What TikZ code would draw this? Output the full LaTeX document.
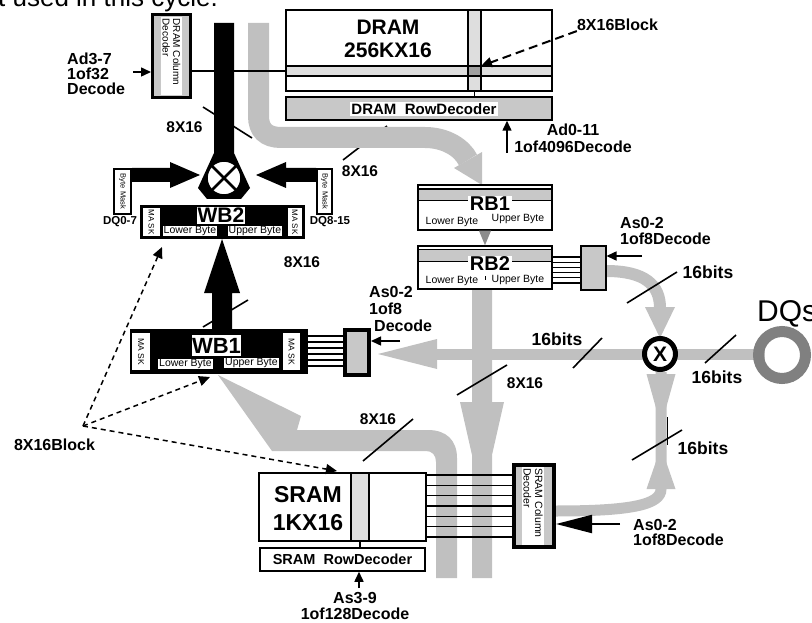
\documentclass[tikz,border=0pt]{standalone}
\usepackage{fontspec}
\setmainfont{Liberation Sans}
\usetikzlibrary{arrows.meta}
\definecolor{busgray}{RGB}{192,192,192}
\definecolor{boxgray}{RGB}{200,200,200}
\definecolor{stripgray}{RGB}{222,222,222}
\definecolor{sqgray}{RGB}{160,160,160}
\definecolor{ringgray}{RGB}{128,128,128}
\definecolor{tipgray}{RGB}{140,140,140}

\begin{document}
\begin{tikzpicture}[x=1pt, y=-1pt,
	box/.style = {draw, line width=1.5pt, inner sep=0pt},
	dec/.style = {draw, line width=4pt, fill=boxgray, inner sep=0pt},
	mask/.style = {fill=white, inner sep=0pt},
	bus/.style = {draw=busgray, line width=11pt},
	lbl/.style = {font=\bfseries\fontsize{16}{#1}\selectfont, inner sep=0pt, align=left},
	lbl/.default = 16,
	wlbl/.style = {font=\bfseries\fontsize{15.5}{15.5}\selectfont, inner sep=0pt},
	bits/.style = {font=\bfseries\fontsize{17.5}{17.5}\selectfont, inner sep=0pt},
	byte/.style = {font=\fontsize{10.5}{10.5}\selectfont, inner xsep=1pt, inner ysep=0.5pt},
	arr/.style = {line width=1.5pt, -{Triangle[width=9pt,length=10pt]}},
	tick/.style = {line width=1.6pt},
	blockptr/.style = {line width=1.5pt, dash pattern=on 5pt off 4pt, -{Triangle[width=10pt,length=11pt]}},
]
\useasboundingbox (0,0) rectangle (812,623);

\node[anchor=base west, inner sep=0pt, font=\fontsize{26}{26}\selectfont] (cycle) at (-2,7) {t used in this cycle.};

% gray buses
\draw[tick] (343,160) -- (387,126);
\draw[bus, line width=21pt] (258.5,23) -- (258.5,116) .. controls (258.5,130) and (266,137.5) .. (281,137.5) -- (425,137.5) .. controls (446,137.5) and (462,148) .. (468,160);
\fill[busgray] (454,168) -- (482,152) -- (482,185) -- cycle;
\draw[bus] (660,354) -- (437,354);
\fill[busgray] (437,339) -- (437,369) -- (378,354) -- cycle;
\draw[bus] (660,354) -- (765,354);
\draw[bus, line width=12pt] (606,271) .. controls (645,271) and (660,285) .. (660,308);
\fill[busgray] (645,307) -- (675,307) -- (660,338) -- cycle;
\draw[bus] (661,372) -- (661,489) .. controls (661,505) and (630,511) .. (556,511);
\fill[busgray] (646.5,374) -- (675.5,374) -- (661,426) -- cycle;
\fill[busgray] (646.5,489) -- (675.5,489) -- (661,447) -- cycle;
\fill[busgray] (472,289) -- (492,289) -- (492,402) -- (504,402) -- (492,455) -- (492,578) -- (472,578) -- (472,455) -- (460,402) -- (472,402) -- cycle;
\fill[busgray] (218,375) -- (301,416) -- (297,430) -- (428,430) .. controls (446,430) and (457,440) .. (457,458) -- (457,578) -- (436,578) -- (436,462) .. controls (436,455) and (432,451) .. (426,451) -- (272,451) -- cycle;

% ticks and their labels
\draw[tick] (573,368) -- (602,338);
\draw[tick] (705,363) -- (736,335);
\draw[tick] (627,303) -- (677,272);
\draw[tick] (632,460) -- (682,430);
\draw[line width=1pt] (667,417) -- (667,445);
\draw[tick] (457,395) -- (507,365);
\draw[tick] (363,461) -- (413,419);
\node[bits] at (557,339) {16bits};
\node[bits] at (717,377) {16bits};
\node[bits] at (708,272) {16bits};
\node[bits] at (703,448) {16bits};
\node[wlbl] at (360,171) {8X16};
\node[wlbl] at (525,383) {8X16};
\node[wlbl] at (378,419) {8X16};
\node[wlbl] at (302,262) {8X16};
\node[wlbl] at (184.5,127) {8X16};

% black write path
\fill (214,23) -- (234,23) -- (234,153) -- (250,188) -- (241,199) -- (207,199) -- (198,188) -- (214,153) -- cycle;
\draw[tick] (203,107) -- (252,138);
\node[circle, draw, fill=white, line width=1.5pt, minimum size=34pt, inner sep=0pt] (mux1) at (224,178) {};
\draw[line width=2.5pt] (mux1.north west) -- (mux1.south east) (mux1.north east) -- (mux1.south west);
\fill (132,168) -- (170,168) -- (170,162) -- (200,175) -- (170,188) -- (170,182) -- (132,182) -- cycle;
\fill (316,168) -- (286,168) -- (286,162) -- (256,175) -- (286,188) -- (286,182) -- (316,182) -- cycle;
\fill (212,329) -- (212,293) -- (204,293) -- (222,239) -- (240,293) -- (232,293) -- (232,329) -- cycle;
\draw[tick] (203,327) -- (248,300);

% byte masks
\node[box, line width=2.5pt, fill=white, minimum width=17pt, minimum height=45pt] (bmL) at (122.5,191.5) {};
\node[rotate=-90, inner sep=0pt, font=\fontsize{7.5}{7.5}\selectfont] at (bmL) {Byte Mask};
\node[box, line width=2.5pt, fill=white, minimum width=15pt, minimum height=45pt] (bmR) at (324.5,191.5) {};
\node[rotate=-90, inner sep=0pt, font=\fontsize{7.5}{7.5}\selectfont] at (bmR) {Byte Mask};
\node[inner sep=0pt, font=\bfseries\fontsize{11.5}{11.5}\selectfont] at (120,222) {DQ0-7};
\node[inner sep=0pt, font=\bfseries\fontsize{11.5}{11.5}\selectfont] at (330,222) {DQ8-15};

% WB2
\node[fill=black, minimum width=165pt, minimum height=34pt, inner sep=0pt] (wb2) at (222.5,222) {};
\node[mask, minimum width=17pt, minimum height=28pt] (wb2mL) at (151.5,222) {};
\node[rotate=-90, inner sep=0pt, font=\fontsize{8}{8}\selectfont] at (wb2mL) {MA SK};
\node[mask, minimum width=14pt, minimum height=28pt] (wb2mR) at (295,222) {};
\node[rotate=-90, inner sep=0pt, font=\fontsize{8}{8}\selectfont] at (wb2mR) {MA SK};
\node[fill=white, inner sep=0pt, minimum width=48pt, minimum height=17pt, font=\bfseries\fontsize{21}{21}\selectfont] at (221,215.5) {WB2};
\node[byte, fill=white] at (190,231) {Lower Byte};
\node[byte, fill=white] at (255,231) {Upper Byte};

% WB1
\node[fill=black, minimum width=178pt, minimum height=45pt, inner sep=0pt] (wb1) at (219,351.5) {};
\node[mask, minimum width=18pt, minimum height=37pt] (wb1mL) at (141,351.5) {};
\node[rotate=-90, inner sep=0pt, font=\fontsize{8.5}{8.5}\selectfont] at (wb1mL) {MA SK};
\node[mask, minimum width=17pt, minimum height=37pt] (wb1mR) at (291.5,351.5) {};
\node[rotate=-90, inner sep=0pt, font=\fontsize{8.5}{8.5}\selectfont] at (wb1mR) {MA SK};
\node[fill=white, inner sep=0pt, minimum width=47pt, minimum height=21pt, font=\bfseries\fontsize{22}{22}\selectfont] at (216.5,345.5) {WB1};
\node[byte, fill=white] at (185.5,364) {Lower Byte};
\node[byte, fill=white] at (251.5,363) {Upper Byte};
\node[dec, minimum width=24pt, minimum height=45pt] (wb1dec) at (357,352.5) {};
\foreach \y in {336,342,...,366}
	\draw[line width=1.2pt] (wb1.east |- 0,\y) -- (wb1dec.west |- 0,\y);
\draw[arr] (400,341) -- (wb1dec.east |- 0,341);
\node[lbl=17, anchor=north west] (wb1adr) at (369,286) {As0-2\\1of8\\\hspace*{5pt}Decode};

% DRAM
\fill[stripgray] (286,66) rectangle (552,76);
\fill[stripgray] (468,10) rectangle (481,91);
\fill[sqgray] (468,66) rectangle (481,76);
\draw[line width=1.5pt] (286,66) -- (552,66) (286,76) -- (552,76) (468,10) -- (468,91) (481,10) -- (481,91);
\node[box, minimum width=266pt, minimum height=81pt] (dram) at (419,50.5) {};
\node[font=\bfseries\fontsize{21}{23}\selectfont, inner sep=0pt, align=center] at (388,38.5) {DRAM\\256KX16};
\node[box, fill=boxgray, minimum width=266pt, minimum height=23pt] (drow) at (419,108.5) {};
\node[fill=white, inner xsep=1.5pt, inner ysep=1pt, font=\bfseries\fontsize{15}{15}\selectfont] at (424,109) {DRAM\ \ RowDecoder};
\draw[line width=1.5pt] (dram.south -| 474.5,0) -- (drow.north -| 474.5,0);
\draw[arr] (507,153) -- (drow.south -| 507,0);
\node[lbl=17, align=center] (ad011) at (573,138.5) {Ad0-11\\1of4096Decode};
\node[lbl] (blkA) at (617.5,25) {8X16Block};
\coordinate (xsq) at (481,66);
\draw[blockptr, line width=2pt, dash pattern=on 9pt off 5pt] (blkA.south west) -- (xsq);

% DRAM column decoder
\node[dec, line width=3pt, minimum width=38pt, minimum height=83pt] (dcol) at (171.5,56) {};
\fill[white] (161,17) rectangle (182,95);
\node[rotate=-90, anchor=west, inner sep=0pt, align=left, font=\fontsize{10}{10.5}\selectfont] at (171.5,18.5) {DRAM Column\\Decoder};
\node[lbl=15, anchor=north west] (ad37) at (67,53) {Ad3-7\\1of32\\Decode};
\coordinate (ad37in) at (133,72);
\draw[arr] (ad37in) -- (ad37in -| dcol.west);
\draw[line width=1.5pt] (dcol.east |- 0,71) -- (dram.west |- 0,71);

% RB1, RB2
\node[box, minimum width=134pt, minimum height=45pt] (rb1) at (485,207.5) {};
\filldraw[fill=boxgray, line width=1.2pt] (418,189) rectangle (552,200.5);
\node[fill=white, inner xsep=2pt, inner ysep=1.5pt, font=\bfseries\fontsize{20}{20}\selectfont] at (490,204) {RB1};
\node[byte] at (452,222) {Lower Byte};
\node[byte] at (518,219) {Upper Byte};
\node[box, minimum width=134pt, minimum height=43pt] (rb2) at (485,267.5) {};
\filldraw[fill=boxgray, line width=1.2pt] (418,249.5) rectangle (552,261.5);
\node[fill=white, inner xsep=2pt, inner ysep=1.5pt, font=\bfseries\fontsize{20}{20}\selectfont] at (490,264) {RB2};
\node[byte] at (452,281) {Lower Byte};
\node[byte] at (518,280) {Upper Byte};
\draw[line width=1pt] (485,276) -- (485,280);
\fill[tipgray] ([xshift=-6pt]rb1.south) -- ([xshift=6pt]rb1.south) -- (rb2.north) -- cycle;
\node[box, line width=2pt, fill=boxgray, minimum width=25pt, minimum height=44pt] (rb2dec) at (593,267.5) {};
\foreach \y in {257,262.2,267.4,272.6,277.8,283}
	\draw[line width=1.2pt] (rb2.east |- 0,\y) -- (rb2dec.west |- 0,\y);
\draw[arr] (642,256) -- (rb2dec.east |- 0,256);
\node[lbl, anchor=north west] (rb2adr) at (620,217) {As0-2\\1of8Decode};

% selector and DQs
\node[circle, draw, line width=5pt, fill=white, minimum size=31pt, inner sep=0pt, font=\bfseries\fontsize{21}{21}\selectfont] (mux2) at (660,354) {X};
\node[circle, draw=ringgray, line width=11pt, minimum size=47pt, inner sep=0pt] (dqs) at (782,355) {};
\node[anchor=base west, inner sep=0pt, font=\fontsize{30}{30}\selectfont] at (757,321) {DQs};

% SRAM
\fill[stripgray] (351,473) rectangle (369,541);
\node[box, minimum width=167pt, minimum height=68pt] (sram) at (342.5,507) {};
\draw[line width=1.5pt] (351,473) -- (351,541) (369,473) -- (369,541);
\node[font=\bfseries\fontsize{23}{28}\selectfont, inner sep=0pt, align=center] at (308,509) {SRAM\\1KX16};
\node[box, fill=white, minimum width=165pt, minimum height=23pt, font=\bfseries\fontsize{14.5}{14.5}\selectfont] (srow) at (342.5,559.5) {SRAM\ \ RowDecoder};
\draw[line width=1.5pt] (sram.south -| 360,0) -- (srow.north -| 360,0);
\draw[arr] (359,588) -- (srow.south -| 359,0);
\node[lbl=16.5, align=center] (as39) at (355,606) {As3-9\\1of128Decode};
\node[dec, minimum width=40pt, minimum height=82pt] (sdec) at (534,506) {};
\fill[white] (522,467) rectangle (544,545);
\node[rotate=-90, anchor=west, inner sep=0pt, align=left, font=\fontsize{10.5}{11.5}\selectfont] at (533,468) {SRAM Column\\Decoder};
\foreach \y in {475,485.3,495.7,506,516.3,526.7,537}
	\draw[line width=1.2pt] (sram.east |- 0,\y) -- (sdec.west |- 0,\y);
\draw[line width=2pt, -{Triangle[width=18pt,length=36pt]}] (620,524) -- (sdec.east |- 0,524);
\node[lbl=15, anchor=north west] (sadr) at (633,519) {As0-2\\1of8Decode};

% 8X16 block pointers
\node[lbl] (blkB) at (54.5,445) {8X16Block};
\coordinate (blkpt) at (83,426);
\coordinate (wb2blk) at (162,247);
\coordinate (wb1blk) at (210,377);
\coordinate (sramblk) at (337,471);
\draw[blockptr] (blkpt) -- (wb2blk);
\draw[blockptr] (blkpt) -- (wb1blk);
\draw[blockptr] (blkpt) -- (sramblk);
\end{tikzpicture}
\end{document}
